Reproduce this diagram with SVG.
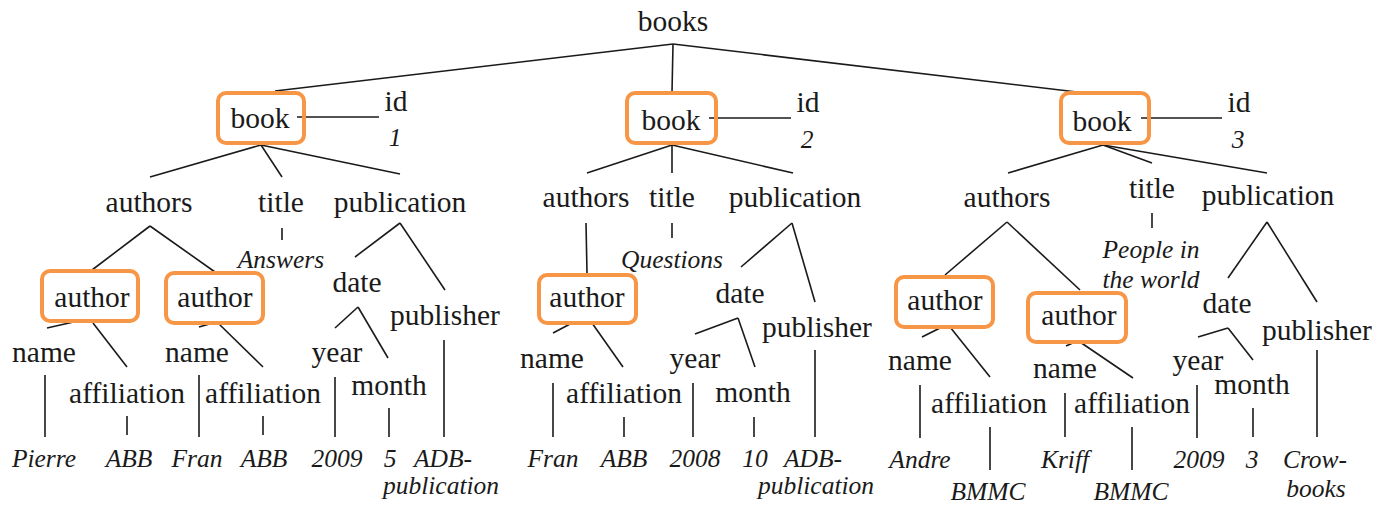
<svg xmlns="http://www.w3.org/2000/svg" width="1375" height="505" viewBox="0 0 1375 505">
<style>
text{font-family:"Liberation Serif","Times New Roman",serif;fill:#1a1a1a;text-anchor:middle}
.t{font-size:29.5px}
.v{font-size:25.5px;font-style:italic}
.box{fill:none;stroke:#F79646;stroke-width:4}
#edges line{stroke:#1a1a1a;stroke-width:1.6}
</style>
<rect width="1375" height="505" fill="#fff"/>
<g id="edges">
<line x1="673" y1="44" x2="275" y2="91"/>
<line x1="673" y1="44" x2="672" y2="92"/>
<line x1="673" y1="44" x2="1077" y2="92"/>
<line x1="297" y1="117" x2="379" y2="117"/>
<line x1="261" y1="145" x2="150" y2="177"/>
<line x1="261" y1="145" x2="282" y2="177"/>
<line x1="261" y1="145" x2="400" y2="174"/>
<line x1="282" y1="228" x2="282" y2="240"/>
<line x1="150" y1="226" x2="92" y2="270"/>
<line x1="150" y1="226" x2="215" y2="272"/>
<line x1="78" y1="321" x2="47" y2="328"/>
<line x1="93" y1="323" x2="127" y2="367"/>
<line x1="213" y1="323" x2="199" y2="327"/>
<line x1="218" y1="323" x2="263" y2="367"/>
<line x1="45" y1="375" x2="45" y2="437"/>
<line x1="127" y1="416" x2="127" y2="435"/>
<line x1="199" y1="375" x2="199" y2="437"/>
<line x1="263" y1="416" x2="263" y2="435"/>
<line x1="400" y1="223" x2="355" y2="257"/>
<line x1="400" y1="223" x2="445" y2="290"/>
<line x1="358" y1="307" x2="335" y2="328"/>
<line x1="358" y1="307" x2="388" y2="358"/>
<line x1="335" y1="377" x2="335" y2="437"/>
<line x1="389" y1="408" x2="389" y2="437"/>
<line x1="444" y1="340" x2="444" y2="437"/>
<line x1="709" y1="118" x2="791" y2="118"/>
<line x1="672" y1="145" x2="587" y2="173"/>
<line x1="672" y1="145" x2="672" y2="173"/>
<line x1="672" y1="145" x2="793" y2="173"/>
<line x1="672" y1="223" x2="672" y2="238"/>
<line x1="586" y1="223" x2="587" y2="273"/>
<line x1="572" y1="323" x2="553" y2="333"/>
<line x1="592" y1="323" x2="623" y2="367"/>
<line x1="553" y1="383" x2="553" y2="437"/>
<line x1="624" y1="417" x2="624" y2="437"/>
<line x1="792" y1="223" x2="741" y2="267"/>
<line x1="792" y1="223" x2="815" y2="302"/>
<line x1="738" y1="318" x2="695" y2="334"/>
<line x1="738" y1="318" x2="755" y2="367"/>
<line x1="693" y1="383" x2="693" y2="437"/>
<line x1="754" y1="417" x2="754" y2="437"/>
<line x1="815" y1="350" x2="815" y2="437"/>
<line x1="1141" y1="118" x2="1222" y2="118"/>
<line x1="1103" y1="145" x2="1008" y2="173"/>
<line x1="1103" y1="145" x2="1152" y2="163"/>
<line x1="1103" y1="145" x2="1267" y2="173"/>
<line x1="1152" y1="213" x2="1152" y2="228"/>
<line x1="1007" y1="222" x2="945" y2="275"/>
<line x1="1007" y1="222" x2="1080" y2="290"/>
<line x1="942" y1="327" x2="922" y2="337"/>
<line x1="950" y1="327" x2="990" y2="377"/>
<line x1="920" y1="385" x2="920" y2="438"/>
<line x1="990" y1="427" x2="990" y2="470"/>
<line x1="1075" y1="342" x2="1066" y2="346"/>
<line x1="1080" y1="342" x2="1133" y2="378"/>
<line x1="1065" y1="393" x2="1065" y2="437"/>
<line x1="1132" y1="427" x2="1132" y2="470"/>
<line x1="1267" y1="222" x2="1228" y2="278"/>
<line x1="1267" y1="222" x2="1317" y2="302"/>
<line x1="1228" y1="328" x2="1198" y2="337"/>
<line x1="1228" y1="328" x2="1253" y2="360"/>
<line x1="1197" y1="385" x2="1197" y2="438"/>
<line x1="1253" y1="408" x2="1253" y2="437"/>
<line x1="1317" y1="350" x2="1317" y2="437"/>
</g>
<g id="books"><text class="t" x="673" y="31">books</text></g>
<g id="book1"><rect class="box" x="218" y="93" width="86" height="50" rx="8"/><text class="t" x="260" y="128">book</text></g>
<g id="id1"><text class="t" x="396" y="111">id</text><text class="v" x="395" y="146">1</text></g>
<g id="authors1"><text class="t" x="149" y="212">authors</text></g>
<g id="title1"><text class="t" x="281" y="212">title</text><text class="v" x="281" y="268">Answers</text></g>
<g id="publication1"><text class="t" x="400" y="212">publication</text></g>
<g id="author1a"><rect class="box" x="42" y="271" width="96" height="50" rx="8"/><text class="t" x="92" y="307">author</text></g>
<g id="author1b"><rect class="box" x="166" y="273" width="97" height="50" rx="8"/><text class="t" x="215" y="307">author</text></g>
<g id="name1a"><text class="t" x="44" y="362">name</text><text class="v" x="44" y="467">Pierre</text></g>
<g id="affil1a"><text class="t" x="127" y="403">affiliation</text><text class="v" x="129" y="467">ABB</text></g>
<g id="name1b"><text class="t" x="197" y="362">name</text><text class="v" x="197" y="467">Fran</text></g>
<g id="affil1b"><text class="t" x="263" y="403">affiliation</text><text class="v" x="264" y="467">ABB</text></g>
<g id="date1"><text class="t" x="357" y="292">date</text></g>
<g id="publisher1"><text class="t" x="445" y="325">publisher</text><text class="v" x="443" y="467">ADB-</text><text class="v" x="441" y="494">publication</text></g>
<g id="year1"><text class="t" x="337" y="362">year</text><text class="v" x="337" y="467">2009</text></g>
<g id="month1"><text class="t" x="389" y="395">month</text><text class="v" x="390" y="467">5</text></g>
<g id="book2"><rect class="box" x="627" y="93" width="89" height="50" rx="8"/><text class="t" x="671" y="130">book</text></g>
<g id="id2"><text class="t" x="808" y="112">id</text><text class="v" x="807" y="148">2</text></g>
<g id="authors2"><text class="t" x="586" y="207">authors</text></g>
<g id="title2"><text class="t" x="672" y="207">title</text><text class="v" x="672" y="268">Questions</text></g>
<g id="publication2"><text class="t" x="795" y="207">publication</text></g>
<g id="author2"><rect class="box" x="539" y="275" width="97" height="48" rx="8"/><text class="t" x="587" y="307">author</text></g>
<g id="name2"><text class="t" x="552" y="368">name</text><text class="v" x="553" y="467">Fran</text></g>
<g id="affil2"><text class="t" x="624" y="403">affiliation</text><text class="v" x="624" y="467">ABB</text></g>
<g id="date2"><text class="t" x="740" y="303">date</text></g>
<g id="publisher2"><text class="t" x="817" y="337">publisher</text><text class="v" x="813" y="467">ADB-</text><text class="v" x="816" y="494">publication</text></g>
<g id="year2"><text class="t" x="695" y="368">year</text><text class="v" x="695" y="467">2008</text></g>
<g id="month2"><text class="t" x="753" y="402">month</text><text class="v" x="755" y="467">10</text></g>
<g id="book3"><rect class="box" x="1061" y="93" width="88" height="50" rx="8"/><text class="t" x="1102" y="131">book</text></g>
<g id="id3"><text class="t" x="1239" y="112">id</text><text class="v" x="1238" y="148">3</text></g>
<g id="authors3"><text class="t" x="1007" y="207">authors</text></g>
<g id="title3"><text class="t" x="1152" y="198">title</text><text class="v" x="1151" y="258">People in</text><text class="v" x="1151" y="288">the world</text></g>
<g id="publication3"><text class="t" x="1268" y="205">publication</text></g>
<g id="author3a"><rect class="box" x="896" y="277" width="97" height="50" rx="8"/><text class="t" x="945" y="310">author</text></g>
<g id="author3b"><rect class="box" x="1028" y="293" width="98" height="49" rx="8"/><text class="t" x="1079" y="325">author</text></g>
<g id="name3a"><text class="t" x="920" y="370">name</text><text class="v" x="920" y="468">Andre</text></g>
<g id="affil3a"><text class="t" x="989" y="413">affiliation</text><text class="v" x="988" y="500">BMMC</text></g>
<g id="name3b"><text class="t" x="1065" y="378">name</text><text class="v" x="1065" y="468">Kriff</text></g>
<g id="affil3b"><text class="t" x="1132" y="413">affiliation</text><text class="v" x="1131" y="500">BMMC</text></g>
<g id="date3"><text class="t" x="1227" y="313">date</text></g>
<g id="publisher3"><text class="t" x="1317" y="340">publisher</text><text class="v" x="1315" y="468">Crow-</text><text class="v" x="1316" y="497">books</text></g>
<g id="year3"><text class="t" x="1198" y="370">year</text><text class="v" x="1199" y="468">2009</text></g>
<g id="month3"><text class="t" x="1252" y="394">month</text><text class="v" x="1252" y="468">3</text></g>
</svg>
